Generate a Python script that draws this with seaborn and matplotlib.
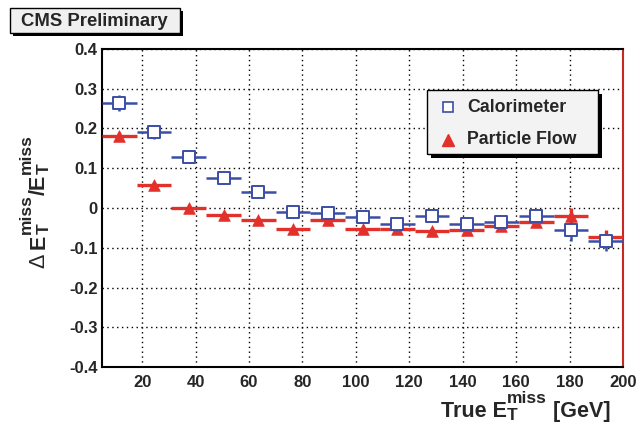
import matplotlib
matplotlib.use("Agg")
import matplotlib.pyplot as plt
from matplotlib.patches import Rectangle
from matplotlib.lines import Line2D
from matplotlib.ticker import MultipleLocator
from matplotlib.transforms import IdentityTransform
import seaborn as sns
import numpy as np
import pandas as pd

# ---- data ----
bin_centers = [11.5, 24.5, 37.5, 50.5, 63.5, 76.5, 89.5, 102.5, 115.5, 128.5,
               141.5, 154.5, 167.5, 180.5, 193.5]
bin_halfwidth = [6.5] * 15
calo_vals = [0.264, 0.192, 0.129, 0.076, 0.041, -0.009, -0.013, -0.022, -0.040,
             -0.019, -0.039, -0.036, -0.021, -0.056, -0.083]
calo_errs = [0.021, 0.018, 0.017, 0.016, 0.016, 0.016, 0.016, 0.016, 0.016,
             0.016, 0.017, 0.017, 0.018, 0.027, 0.025]
pf_vals = [0.182, 0.057, 0.001, -0.018, -0.029, -0.054, -0.031, -0.052, -0.052,
           -0.058, -0.056, -0.046, -0.034, -0.019, -0.072]
pf_errs = [0.008, 0.008, 0.007, 0.007, 0.007, 0.007, 0.007, 0.007, 0.008,
           0.008, 0.008, 0.009, 0.010, 0.018, 0.016]
series_names = ["Calorimeter", "Particle Flow"]
y_tick_labels = ["-0.4", "-0.3", "-0.2", "-0.1", "0", "0.1", "0.2", "0.3", "0.4"]

BLUE = "#3b4ea6"
RED = "#e2302a"
W, H = 636, 424

sns.set_theme(style="white")
plt.rcParams["font.family"] = ["Liberation Sans", "DejaVu Sans"]
plt.rcParams["font.weight"] = "bold"

df = pd.DataFrame({
    "x": bin_centers * 2,
    "y": calo_vals + pf_vals,
    "series": [series_names[0]] * 15 + [series_names[1]] * 15,
})

fig = plt.figure(figsize=(W / 100, H / 100), dpi=100)
ax = fig.add_axes([102 / W, 1 - 367 / H, (623 - 102) / W, (367 - 49) / H])

ax.errorbar(bin_centers, pf_vals, xerr=bin_halfwidth, yerr=pf_errs, fmt="none",
            ecolor=RED, elinewidth=2.4, capsize=0, zorder=3)
ax.errorbar(bin_centers, calo_vals, xerr=bin_halfwidth, yerr=calo_errs, fmt="none",
            ecolor=BLUE, elinewidth=1.8, capsize=0, zorder=4)

sns.scatterplot(data=df[df.series == series_names[1]], x="x", y="y", ax=ax,
                marker="^", s=70, color=RED, edgecolor=RED, linewidth=0.5,
                zorder=5, legend=False)
sns.scatterplot(data=df[df.series == series_names[0]], x="x", y="y", ax=ax,
                marker="s", s=70, facecolor="white", edgecolor=BLUE, linewidth=1.4,
                zorder=6, legend=False)

ax.set_xlim(5, 200)
ax.set_ylim(-0.4, 0.4)
ax.xaxis.set_major_locator(MultipleLocator(20))
ax.xaxis.set_minor_locator(MultipleLocator(5))
ax.set_yticks(np.linspace(-0.4, 0.4, 9))
ax.set_yticklabels(y_tick_labels)
ax.yaxis.set_minor_locator(MultipleLocator(0.02))
ax.tick_params(axis="both", which="major", direction="in", length=10, width=1.3,
               labelsize=12, pad=3, top=False, right=False)
ax.tick_params(axis="both", which="minor", direction="in", length=5, width=1.1,
               top=False, right=False)
ax.tick_params(axis="x", which="major", pad=6)
for lab in ax.get_xticklabels() + ax.get_yticklabels():
    lab.set_fontweight("bold")
ax.set_xlabel("")
ax.set_ylabel("")

ax.grid(True, which="major", color="black", linestyle=(0, (1, 2.5)), linewidth=1.0)
ax.set_axisbelow(True)
for s in ["left", "bottom", "top"]:
    ax.spines[s].set_color("black")
    ax.spines[s].set_linewidth(1.5)
ax.spines["right"].set_color("#c8281e")
ax.spines["right"].set_linewidth(1.5)

renderer = fig.canvas.get_renderer()
IDT = IdentityTransform()


def compose(x0, y0, pieces, rotation=0):
    """Lay out text pieces along a baseline starting at pixel (x0, y0),
    measured from the top-left corner of the figure."""
    pos = 0.0
    for item in pieces:
        if item[0] == "stack":
            widths = []
            for (txt, size, shift) in item[1:]:
                if rotation == 90:
                    t = fig.text(x0 - shift, H - (y0 - pos), txt, fontsize=size,
                                 fontweight="bold", rotation=90,
                                 rotation_mode="anchor", ha="left", va="baseline",
                                 transform=IDT)
                    widths.append(t.get_window_extent(renderer).height)
                else:
                    t = fig.text(x0 + pos, H - (y0 - shift), txt, fontsize=size,
                                 fontweight="bold", ha="left", va="baseline",
                                 transform=IDT)
                    widths.append(t.get_window_extent(renderer).width)
            pos += max(widths)
        else:
            txt, size, weight = item
            if rotation == 90:
                t = fig.text(x0, H - (y0 - pos), txt, fontsize=size, fontweight=weight,
                             rotation=90, rotation_mode="anchor", ha="left",
                             va="baseline", transform=IDT)
                pos += t.get_window_extent(renderer).height
            else:
                t = fig.text(x0 + pos, H - y0, txt, fontsize=size, fontweight=weight,
                             ha="left", va="baseline", transform=IDT)
                pos += t.get_window_extent(renderer).width
    return pos


MAIN, SCR = 15.5, 12.5
SUP, SUB = 14, -3.5
# x label
compose(441, 417, [("True E", MAIN, "bold"),
                   ("stack", ("miss", SCR, SUP), ("T", SCR, SUB)),
                   (" [GeV]", MAIN, "bold")])
# y label (rotated)
compose(45, 268, [("\u0394 ", MAIN, "normal"), ("E", MAIN, "bold"),
                  ("stack", ("miss", SCR, SUP), ("T", SCR, SUB)),
                  ("/E", MAIN, "bold"),
                  ("stack", ("miss", SCR, SUP), ("T", SCR, SUB))], rotation=90)


def fx(x):
    return x / W


def fy(y):
    return 1 - y / H


# legend (drawn manually)
fig.patches.append(Rectangle((fx(431), fy(158)), 171 / W, 64 / H,
                             transform=fig.transFigure, facecolor="black",
                             edgecolor="none", zorder=10))
fig.patches.append(Rectangle((fx(427), fy(154)), 171 / W, 64 / H,
                             transform=fig.transFigure, facecolor="#f3f3f3",
                             edgecolor="black", linewidth=1.0, zorder=11))
fig.lines.append(Line2D([fx(448)], [fy(107)], marker="s", markersize=7,
                        markerfacecolor="white", markeredgecolor=BLUE,
                        markeredgewidth=1.2, linestyle="none",
                        transform=fig.transFigure, zorder=12))
fig.lines.append(Line2D([fx(448)], [fy(140)], marker="^", markersize=8,
                        color=RED, linestyle="none",
                        transform=fig.transFigure, zorder=12))
fig.text(fx(467), fy(107), series_names[0], fontsize=12.8, fontweight="bold",
         ha="left", va="center", zorder=13)
fig.text(fx(467), fy(140), series_names[1], fontsize=12.8, fontweight="bold",
         ha="left", va="center", zorder=13)

# CMS Preliminary box
fig.patches.append(Rectangle((fx(13), fy(36)), 170 / W, 25 / H,
                             transform=fig.transFigure, facecolor="black",
                             edgecolor="none", zorder=1))
fig.patches.append(Rectangle((fx(10), fy(33)), 170 / W, 25 / H,
                             transform=fig.transFigure, facecolor="#f0f0f0",
                             edgecolor="black", linewidth=1.0, zorder=2))
fig.text(fx(94), fy(21.5), "CMS Preliminary", ha="center", va="center",
         fontsize=13.3, fontweight="bold", zorder=3)

fig.savefig("out.png", dpi=100)
